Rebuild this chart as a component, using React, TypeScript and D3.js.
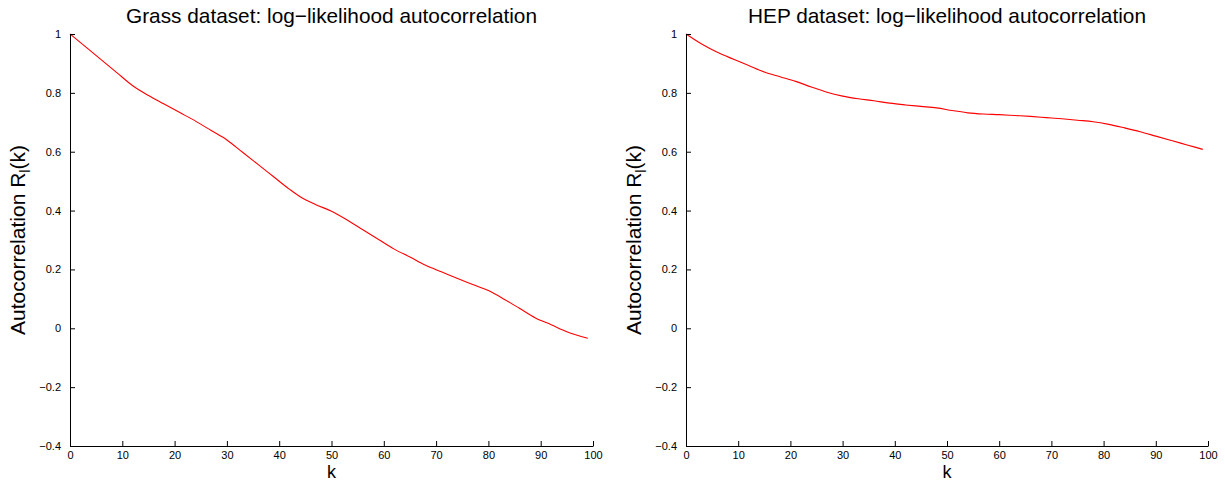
import { useEffect, useRef } from 'react';
import * as d3 from 'd3';

const grassK = [0, 3, 6, 9, 12, 15, 18, 21, 24, 27, 30, 33, 36, 39, 42, 44, 47, 50, 53, 56, 59, 62, 65, 68, 71, 74, 77, 80, 83, 86, 89, 92, 95, 99];
const grassR = [1.0, 0.956, 0.912, 0.868, 0.824, 0.791, 0.762, 0.733, 0.704, 0.672, 0.64, 0.598, 0.556, 0.514, 0.472, 0.447, 0.42, 0.398, 0.368, 0.335, 0.302, 0.269, 0.242, 0.214, 0.192, 0.17, 0.149, 0.128, 0.099, 0.067, 0.035, 0.012, -0.012, -0.034];

const hepK = [0, 3, 6, 9, 12, 15, 18, 21, 24, 27, 30, 33, 36, 39, 42, 45, 48, 51, 54, 57, 60, 63, 66, 69, 72, 75, 78, 81, 84, 87, 90, 93, 96, 99];
const hepR = [1.0, 0.966, 0.938, 0.915, 0.893, 0.871, 0.855, 0.839, 0.82, 0.802, 0.789, 0.78, 0.773, 0.765, 0.759, 0.754, 0.749, 0.74, 0.732, 0.728, 0.726, 0.723, 0.72, 0.716, 0.712, 0.707, 0.702, 0.693, 0.681, 0.668, 0.653, 0.638, 0.623, 0.608];

const xTicks = [0, 10, 20, 30, 40, 50, 60, 70, 80, 90, 100];
const yTicks = [-0.4, -0.2, 0, 0.2, 0.4, 0.6, 0.8, 1];

const titles = ['Grass dataset: log\u2212likelihood autocorrelation', 'HEP dataset: log\u2212likelihood autocorrelation'];

const fmt = (v: number) => {
  const s = d3.format('~g')(+v.toFixed(2));
  return s.replace('-', '\u2212');
};

export default function App() {
  const svgRef = useRef<SVGSVGElement>(null);

  useEffect(() => {
    const svg = d3.select(svgRef.current);
    svg.selectAll('*').remove();
    const font = '"Liberation Sans", Arial, sans-serif';

    const panels = [
      { left: 70, right: 593, ks: grassK, rs: grassR, title: titles[0] },
      { left: 686, right: 1208, ks: hepK, rs: hepR, title: titles[1] },
    ];
    const top = 34;
    const bottom = 446;

    panels.forEach((p) => {
      const x = d3.scaleLinear().domain([0, 100]).range([p.left, p.right]);
      const y = d3.scaleLinear().domain([-0.4, 1]).range([bottom, top]);
      const g = svg.append('g');

      const line = d3.line<number>()
        .x((_, i) => x(p.ks[i]))
        .y((d) => y(d))
        .curve(d3.curveMonotoneX);

      g.append('path')
        .datum(p.rs)
        .attr('d', line)
        .attr('fill', 'none')
        .attr('stroke', '#ff0000')
        .attr('stroke-width', 1.1);

      // axes with inward ticks
      const xAxis = g.append('g')
        .attr('transform', `translate(0,${bottom})`)
        .call(d3.axisBottom(x).tickValues(xTicks).tickSizeInner(-5).tickSizeOuter(0).tickPadding(5.5).tickFormat((d) => fmt(+d)));
      const yAxis = g.append('g')
        .attr('transform', `translate(${p.left},0)`)
        .call(d3.axisLeft(y).tickValues(yTicks).tickSizeInner(-5).tickSizeOuter(0).tickPadding(9).tickFormat((d) => fmt(+d)));

      [xAxis, yAxis].forEach((a) => {
        a.selectAll('path').attr('stroke', '#000').attr('stroke-width', 1);
        a.selectAll('line').attr('stroke', '#000');
        a.selectAll('text').attr('font-family', font).attr('font-size', 11).attr('fill', '#000');
      });

      g.append('text')
        .attr('x', (p.left + p.right) / 2)
        .attr('y', 23)
        .attr('text-anchor', 'middle')
        .attr('font-family', font)
        .attr('font-size', 20.8)
        .text(p.title);

      g.append('text')
        .attr('x', (p.left + p.right) / 2)
        .attr('y', 478)
        .attr('text-anchor', 'middle')
        .attr('font-family', font)
        .attr('font-size', 18)
        .text('k');

      const yl = g.append('text')
        .attr('transform', `translate(${p.left - 45},${(top + bottom) / 2}) rotate(-90)`)
        .attr('text-anchor', 'middle')
        .attr('font-family', font)
        .attr('font-size', 21);
      yl.append('tspan').text('Autocorrelation R');
      yl.append('tspan').attr('font-size', 14).attr('dy', 5).text('l');
      yl.append('tspan').attr('dy', -5).text('(k)');
    });
  }, []);

  return (
    <svg ref={svgRef} width={1225} height={482} style={{ position: 'absolute', left: 0, top: 0, background: '#fff' }} />
  );
}
